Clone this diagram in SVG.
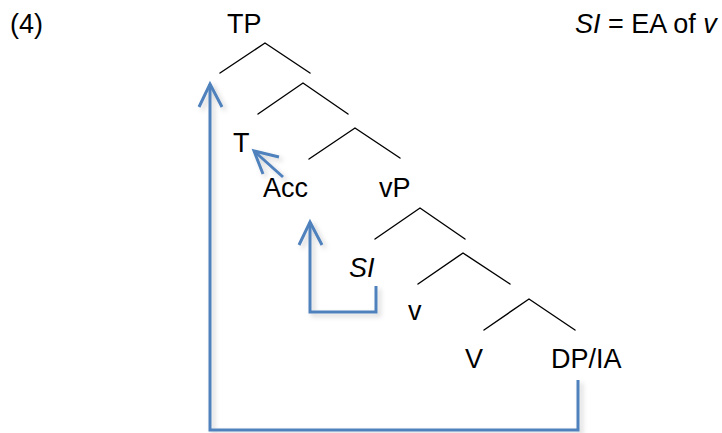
<svg xmlns="http://www.w3.org/2000/svg" width="722" height="433" viewBox="0 0 722 433">
  <defs>
    <style>
      .lbl { font-family: "Liberation Sans", Arial, sans-serif; font-size: 27px; fill: #000; }
      .it { font-style: italic; }
      .branch { fill: none; stroke: #000; stroke-width: 1.4; stroke-linecap: round; stroke-linejoin: miter; }
      .move { fill: none; stroke: #4f81bd; stroke-width: 3; stroke-linecap: butt; stroke-linejoin: miter; }
    </style>
    <filter id="shadow" x="-20%" y="-20%" width="140%" height="140%">
      <feDropShadow dx="3" dy="3" stdDeviation="2.5" flood-color="#000" flood-opacity="0.18"/>
    </filter>
  </defs>
  <rect width="722" height="433" fill="#fff"/>

  <!-- example number and note -->
  <text class="lbl" x="10" y="33">(4)</text>
  <text class="lbl" x="575" y="33"><tspan class="it">SI</tspan> = EA of <tspan class="it">v</tspan></text>

  <!-- tree nodes -->
  <g id="node-TP"><text class="lbl" x="227" y="33">TP</text></g>
  <g id="node-T"><text class="lbl" x="233" y="152">T</text></g>
  <g id="node-Acc"><text class="lbl" x="263" y="197">Acc</text></g>
  <g id="node-vP"><text class="lbl" x="379" y="197">vP</text></g>
  <g id="node-SI"><text class="lbl it" x="349" y="277">SI</text></g>
  <g id="node-v"><text class="lbl" x="408" y="320">v</text></g>
  <g id="node-V"><text class="lbl" x="465" y="368">V</text></g>
  <g id="node-DPIA"><text class="lbl" x="551" y="368">DP/IA</text></g>

  <!-- branches and movement arrows -->
  <g id="connectors">
    <polyline class="branch" points="220,73 265,43 310,73"/>
    <polyline class="branch" points="258,114 303,83 348,114"/>
    <polyline class="branch" points="309,159 355,128 400,158"/>
    <polyline class="branch" points="375,239 420,208 465,239"/>
    <polyline class="branch" points="418,284 463,253 510,284"/>
    <polyline class="branch" points="484,330 529,299 575,330"/>

    <g filter="url(#shadow)">
      <!-- DP/IA raised to TP -->
      <polyline class="move" points="578,380 578,430 210,430 210,84"/>
      <polyline class="move" points="199,107 210,84 222,107"/>
      <!-- SI raised to Acc -->
      <polyline class="move" points="376,286 376,312 310,312 310,222"/>
      <polyline class="move" points="299,245 310,222 322,245"/>
      <!-- Acc to T -->
      <line class="move" x1="283" y1="177" x2="254" y2="151"/>
      <polyline class="move" points="279,157 254,151 263,174"/>
    </g>
  </g>
</svg>
